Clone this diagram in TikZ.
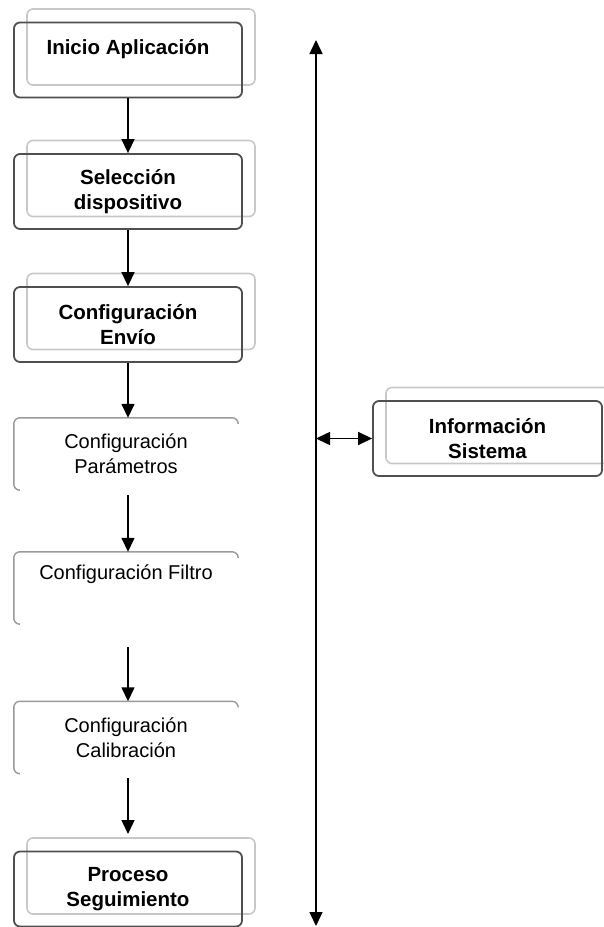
\documentclass[tikz,border=0pt]{standalone}
\usepackage{fontspec}
\setmainfont{Liberation Sans}
\usetikzlibrary{arrows.meta,calc}
\definecolor{boxdark}{HTML}{505050}
\definecolor{boxlight}{HTML}{C8C8C8}
\definecolor{boxpart}{HTML}{9A9A9A}
\tikzset{
  mainbox/.style={draw=boxdark, line width=1.8pt, rounded corners=6pt,
    minimum width=228pt, minimum height=75pt, align=center,
    font=\fontsize{20.5}{25}\selectfont\bfseries, inner sep=0pt},
  backbox/.style={draw=boxlight, line width=1.6pt, rounded corners=6pt,
    minimum width=228pt, minimum height=76pt, xshift=13pt, yshift=13pt, inner sep=0pt},
  stepbox/.style={minimum width=224pt, minimum height=72pt, align=center,
    font=\fontsize{20}{25}\selectfont, inner sep=0pt},
  partline/.style={draw=boxpart, line width=1.4pt, rounded corners=6pt},
  flow/.style={line width=1.5pt, -{Triangle[length=14pt,width=13pt]}},
  both/.style={line width=1.5pt, {Triangle[length=14pt,width=13pt]}-{Triangle[length=14pt,width=13pt]}}
}
\begin{document}
\begin{tikzpicture}[x=1pt,y=-1pt]
\useasboundingbox (0,0) rectangle (603,927);

% outlined stages with their offset back frames
\node[backbox] (b1s) at (128,60) {};
\node[mainbox] (b1) at (128,60) {Inicio Aplicación\\[-6pt]\strut};
\node[backbox] (b2s) at (128,191.5) {};
\node[mainbox] (b2) at (128,191.5) {Selección\\dispositivo};
\node[backbox] (b3s) at (128,324.5) {};
\node[mainbox] (b3) at (128,324.5) {Configuración\\Envío};

% configuration steps with open frames
\node[stepbox] (p4) at (126,454) {Configuración\\Parámetros};
\node[stepbox] (p5) at (126,588) {Configuración Filtro\\\strut};
\node[stepbox] (p6) at (126,737.5) {Configuración\\Calibración};
\foreach \p in {p4,p5,p6}{
  \draw[partline] ($(\p.south west)+(5,0)$) -- (\p.south west) -- (\p.north west)
    -- (\p.north east) -- ++(0,5);
}

\node[backbox] (b7s) at (128,889) {};
\node[mainbox] (b7) at (128,889) {Proceso\\Seguimiento};

% side stage
\node[backbox, minimum width=229pt] (infos) at (487.5,438.5) {};
\node[mainbox, minimum width=229pt] (info) at (487.5,438.5) {Información\\Sistema};

% flow connectors
\coordinate (a4s) at (128,495);
\coordinate (a5s) at (128,647);
\coordinate (a6s) at (128,778);
\coordinate (a6e) at (128,834);
\draw[flow] (b1.south) -- (b2.north);
\draw[flow] (b2.south) -- (b3.north);
\draw[flow] (b3.south) -- (b3.south |- p4.north);
\draw[flow] (a4s) -- (a4s |- p5.north);
\draw[flow] (a5s) -- (a5s |- p6.north);
\draw[flow] (a6s) -- (a6e);

% system information bus
\coordinate (bustop) at (316,40);
\coordinate (busbot) at (316,926);
\coordinate (busmid) at (316,438.5);
\draw[both] (bustop) -- (busbot);
\draw[both] (busmid) -- (info.west);
\end{tikzpicture}
\end{document}
